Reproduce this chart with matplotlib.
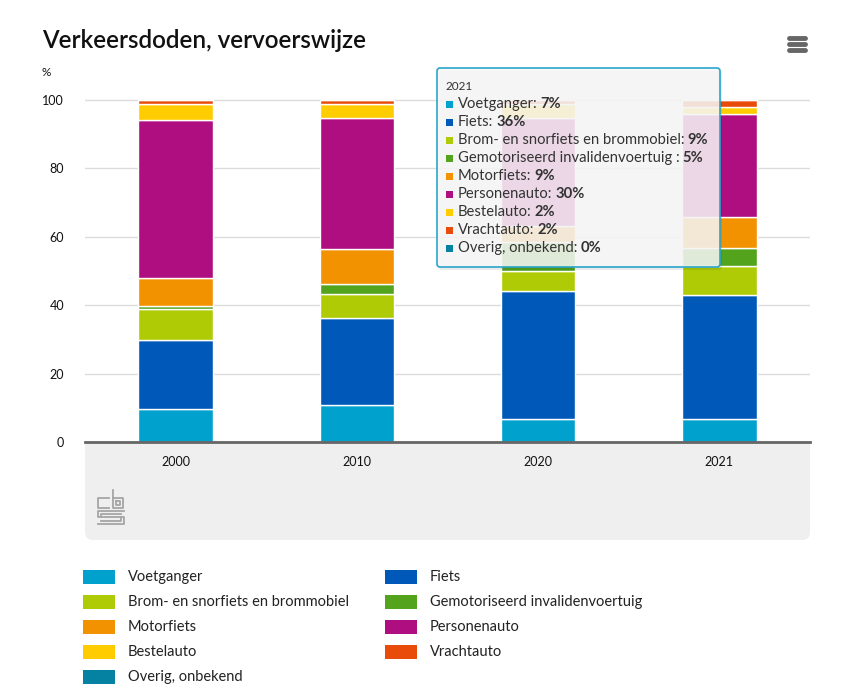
import matplotlib
matplotlib.use('Agg')
import matplotlib.pyplot as plt
from matplotlib.patches import Rectangle, FancyBboxPatch
from matplotlib.lines import Line2D
from matplotlib.text import Annotation
from matplotlib.transforms import IdentityTransform
import numpy as np

plt.rcParams['font.family'] = ['Lato', 'DejaVu Sans']

W, H = 843, 687

years = ['2000', '2010', '2020', '2021']
modes = ['Voetganger', 'Fiets', 'Brom- en snorfiets en brommobiel',
         'Gemotoriseerd invalidenvoertuig ', 'Motorfiets', 'Personenauto',
         'Bestelauto', 'Vrachtauto', 'Overig, onbekend']
colors = ['#00a1cd', '#0058b8', '#afcb05', '#53a31d', '#f39200', '#af0e80',
          '#ffcc00', '#e94c0a', '#0581a2']

# share of road deaths (%) per year
voetganger = [9.6, 10.7, 6.6, 6.6]
fiets = [20.1, 25.5, 37.6, 36.4]
brom = [9.1, 7.0, 5.8, 8.6]
invalidenvoertuig = [1.1, 2.9, 8.4, 5.0]
motorfiets = [8.0, 10.3, 4.9, 9.3]
personenauto = [46.3, 38.3, 31.3, 29.9]
bestelauto = [4.5, 4.0, 4.1, 2.2]
vrachtauto = [1.3, 1.3, 1.3, 2.0]
overig = [0, 0, 0, 0]

series = [voetganger, fiets, brom, invalidenvoertuig, motorfiets,
          personenauto, bestelauto, vrachtauto, overig]
hover_year = 3  # tooltip shown for 2021


def fy(y):
    # image pixel row -> display y
    return H - y


fig = plt.figure(figsize=(W / 100, H / 100), dpi=100)
ax = fig.add_axes([85 / W, 245 / H, 725 / W, 342 * 1.02 / H])

x = np.arange(len(years))
bottom = np.zeros(len(years))
for vals, c in zip(series, colors):
    vals = np.array(vals, dtype=float)
    ax.bar(x, vals, 0.41, bottom=bottom, color=c, edgecolor='white', linewidth=1)
    bottom += vals

ax.set_xlim(-0.5, 3.5)
ax.set_ylim(0, 102)
ax.set_yticks(range(0, 101, 20))
ax.set_xticks(x)
ax.set_xticklabels(years)
ax.tick_params(axis='both', length=0, labelsize=9, labelcolor='#111111')
ax.tick_params(axis='y', pad=15)
ax.tick_params(axis='x', pad=10)
ax.grid(axis='y', color='#dcdcdc', lw=1)
ax.set_axisbelow(True)
for s in ['left', 'right', 'top']:
    ax.spines[s].set_visible(False)
ax.spines['bottom'].set_color('#666666')
ax.spines['bottom'].set_linewidth(2)

# grey footer panel under the x axis
fig.add_artist(FancyBboxPatch((85, fy(540)), 725, 120, boxstyle='round,pad=0,rounding_size=8',
                              transform=IdentityTransform(), fc='#efefef', ec='none', zorder=-1))

# title, unit, menu icon
fig.text(42 / W, 1 - 40 / H, 'Verkeersdoden, vervoerswijze', fontsize=17.5,
         weight='semibold', va='center', color='#111111')
fig.text(42 / W, 1 - 72 / H, '%', fontsize=8.5, va='center', color='#111111')
for yy in (38, 44, 50):
    fig.add_artist(Line2D([789, 805], [fy(yy)] * 2, lw=3.5, color='#666666',
                          solid_capstyle='round', transform=IdentityTransform()))

# cbs logo, rough outline
logo_paths = [
    ([109, 98, 98, 109], [498, 498, 508, 508]),
    ([113, 113, 123, 123, 113], [490, 508, 508, 498, 498]),
    ([116, 120, 120, 116, 116], [501, 501, 505, 505, 501]),
    ([124, 98, 98, 124, 124, 98], [511, 511, 517, 517, 524, 524]),
    ([121, 101, 101], [514, 514, 517]),
    ([101, 121, 121], [521, 521, 517]),
]
for xs, ys in logo_paths:
    fig.add_artist(Line2D(xs, [fy(v) for v in ys], lw=1.3, color='#a5a5a5',
                          transform=IdentityTransform()))

# legend, row-wise in two columns
for i, (name, c) in enumerate(zip(modes, colors)):
    row, col = i // 2, i % 2
    y = 577 + 25 * row
    x0 = 83 + 302 * col
    fig.add_artist(Rectangle((x0, fy(y) - 7), 32, 14, transform=IdentityTransform(),
                             fc=c, ec='none'))
    fig.text((x0 + 45) / W, fy(y) / H, name.strip(), fontsize=10.5, va='center',
             color='#222222')

# tooltip
fig.add_artist(FancyBboxPatch((439, fy(270)), 283, 199, boxstyle='round,pad=0,rounding_size=3',
                              transform=IdentityTransform(), fc=(0, 0, 0, 0.08), ec='none', zorder=4))
fig.add_artist(FancyBboxPatch((437, fy(267)), 283, 199, boxstyle='round,pad=0,rounding_size=3',
                              transform=IdentityTransform(), fc=(0.969, 0.969, 0.969, 0.87),
                              ec='#2aa5cc', lw=1.2, zorder=5))
fig.text(446 / W, fy(87) / H, years[hover_year], fontsize=8.5, va='center',
         color='#333333', zorder=6)
for k, (name, c, vals) in enumerate(zip(modes, colors, series)):
    y = 104 + 18 * k
    fig.add_artist(Rectangle((446, fy(y) - 3.5), 7, 7, transform=IdentityTransform(),
                             fc=c, ec='none', zorder=6))
    lab = fig.text(458 / W, fy(y) / H, name + ':', fontsize=10.6, va='center',
                   color='#333333', zorder=6)
    ann = Annotation(f'{vals[hover_year]:.0f}%', xy=(1, 0.5), xycoords=lab,
                     xytext=(2.2, 0), textcoords='offset points', va='center', ha='left',
                     fontsize=10.6, weight='bold', color='#333333', zorder=6)
    fig.add_artist(ann)

fig.savefig('out.png', dpi=100)
